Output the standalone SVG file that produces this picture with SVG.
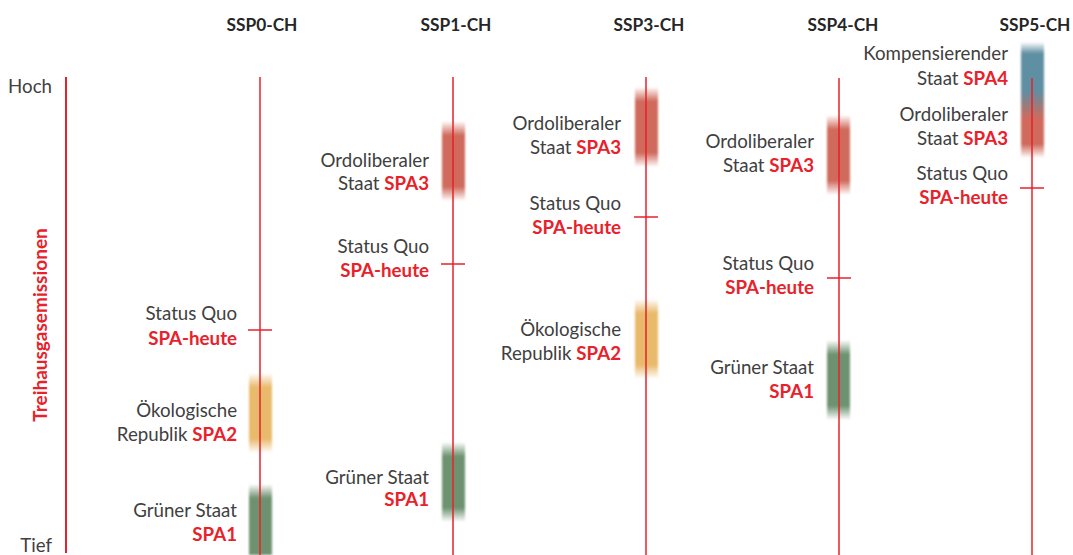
<svg xmlns="http://www.w3.org/2000/svg" width="1073" height="555" viewBox="0 0 1073 555">
<style>
.t{font-family:Lato,"Open Sans",sans-serif;font-size:18.7px;fill:#404040;text-anchor:end}
.r{fill:#e8212a;font-weight:bold}
.h{font-family:Lato,"Open Sans",sans-serif;font-size:17.3px;font-weight:bold;fill:#262626;text-anchor:middle}
.ax{stroke:#e8212a;stroke-width:1.5;fill:none}
</style>
<defs>
<filter id="bl" x="-20%" y="-10%" width="140%" height="120%"><feGaussianBlur stdDeviation="1.2"/></filter>
<linearGradient id="gO" x1="0" y1="0" x2="0" y2="1"><stop offset="0" stop-color="#e9b96c" stop-opacity="0"/><stop offset="0.18" stop-color="#e9b96c"/><stop offset="0.82" stop-color="#e9b96c"/><stop offset="1" stop-color="#e9b96c" stop-opacity="0"/></linearGradient>
<linearGradient id="gG" x1="0" y1="0" x2="0" y2="1"><stop offset="0" stop-color="#6e9270" stop-opacity="0"/><stop offset="0.18" stop-color="#6e9270"/><stop offset="0.82" stop-color="#6e9270"/><stop offset="1" stop-color="#6e9270" stop-opacity="0"/></linearGradient>
<linearGradient id="gG2" x1="0" y1="0" x2="0" y2="1"><stop offset="0" stop-color="#6e9270" stop-opacity="0"/><stop offset="0.2" stop-color="#6e9270"/><stop offset="1" stop-color="#6e9270"/></linearGradient>
<linearGradient id="gR" x1="0" y1="0" x2="0" y2="1"><stop offset="0" stop-color="#cf6a5c" stop-opacity="0"/><stop offset="0.18" stop-color="#cf6a5c"/><stop offset="0.82" stop-color="#cf6a5c"/><stop offset="1" stop-color="#cf6a5c" stop-opacity="0"/></linearGradient>
<linearGradient id="gB" x1="0" y1="0" x2="0" y2="1"><stop offset="0" stop-color="#5f8fa2" stop-opacity="0"/><stop offset="0.1" stop-color="#5f8fa2"/><stop offset="0.42" stop-color="#5f8fa2"/><stop offset="0.66" stop-color="#cf6a5c"/><stop offset="0.88" stop-color="#cf6a5c"/><stop offset="1" stop-color="#cf6a5c" stop-opacity="0"/></linearGradient>
</defs>

<g id="axis">
<text class="t" x="52" y="93">Hoch</text>
<text class="t" x="52" y="552">Tief</text>
<text x="0" y="0" transform="translate(47,325) rotate(-90)" style="font-family:Lato,'Open Sans',sans-serif;font-size:19px;font-weight:bold;fill:#e8212a;text-anchor:middle">Treihausgasemissionen</text>
</g>

<g id="bars" filter="url(#bl)">
<rect x="249" y="373" width="23" height="80" fill="url(#gO)"/>
<rect x="249" y="484" width="23" height="71" fill="url(#gG2)"/>
<rect x="442" y="121" width="23" height="80" fill="url(#gR)"/>
<rect x="442" y="442" width="23" height="80" fill="url(#gG)"/>
<rect x="635" y="87" width="23" height="80" fill="url(#gR)"/>
<rect x="635" y="299" width="23" height="80" fill="url(#gO)"/>
<rect x="827" y="115" width="23" height="80" fill="url(#gR)"/>
<rect x="827" y="340" width="23" height="80" fill="url(#gG)"/>
<rect x="1021" y="42" width="23" height="116" fill="url(#gB)"/>
</g>

<g id="connectors">
<line class="ax" x1="66" y1="77" x2="66" y2="553" style="stroke-width:2"/>
<line class="ax" x1="260" y1="77" x2="260" y2="555"/>
<line class="ax" x1="453" y1="77" x2="453" y2="555"/>
<line class="ax" x1="646" y1="77" x2="646" y2="555"/>
<line class="ax" x1="839" y1="78" x2="839" y2="555"/>
<line class="ax" x1="1032" y1="78" x2="1032" y2="555"/>
<line class="ax" x1="248" y1="330" x2="272" y2="330"/>
<line class="ax" x1="441" y1="264" x2="465" y2="264"/>
<line class="ax" x1="634" y1="217" x2="658" y2="217"/>
<line class="ax" x1="827" y1="278" x2="851" y2="278"/>
<line class="ax" x1="1020" y1="188" x2="1044" y2="188"/>
</g>

<g id="ssp0">
<text class="h" x="262" y="31">SSP0-CH</text>
<text class="t" x="237" y="320">Status Quo</text>
<text class="t r" x="237" y="345">SPA-heute</text>
<text class="t" x="237" y="417">Ökologische</text>
<text class="t" x="237" y="441">Republik <tspan class="r">SPA2</tspan></text>
<text class="t" x="237" y="517">Grüner Staat</text>
<text class="t r" x="237" y="541">SPA1</text>
</g>

<g id="ssp1">
<text class="h" x="456" y="31">SSP1-CH</text>
<text class="t" x="429" y="167">Ordoliberaler</text>
<text class="t" x="429" y="190">Staat <tspan class="r">SPA3</tspan></text>
<text class="t" x="429" y="253">Status Quo</text>
<text class="t r" x="429" y="277">SPA-heute</text>
<text class="t" x="429" y="484">Grüner Staat</text>
<text class="t r" x="429" y="506">SPA1</text>
</g>

<g id="ssp3">
<text class="h" x="649" y="31">SSP3-CH</text>
<text class="t" x="621" y="130">Ordoliberaler</text>
<text class="t" x="621" y="154">Staat <tspan class="r">SPA3</tspan></text>
<text class="t" x="621" y="210">Status Quo</text>
<text class="t r" x="621" y="234">SPA-heute</text>
<text class="t" x="621" y="336">Ökologische</text>
<text class="t" x="621" y="360">Republik <tspan class="r">SPA2</tspan></text>
</g>

<g id="ssp4">
<text class="h" x="843" y="31">SSP4-CH</text>
<text class="t" x="814" y="148">Ordoliberaler</text>
<text class="t" x="814" y="172">Staat <tspan class="r">SPA3</tspan></text>
<text class="t" x="814" y="270">Status Quo</text>
<text class="t r" x="814" y="294">SPA-heute</text>
<text class="t" x="814" y="374">Grüner Staat</text>
<text class="t r" x="814" y="398">SPA1</text>
</g>

<g id="ssp5">
<text class="h" x="1035" y="31">SSP5-CH</text>
<text class="t" x="1008" y="60">Kompensierender</text>
<text class="t" x="1008" y="85">Staat <tspan class="r">SPA4</tspan></text>
<text class="t" x="1008" y="121">Ordoliberaler</text>
<text class="t" x="1008" y="145">Staat <tspan class="r">SPA3</tspan></text>
<text class="t" x="1008" y="180">Status Quo</text>
<text class="t r" x="1008" y="204">SPA-heute</text>
</g>
</svg>
